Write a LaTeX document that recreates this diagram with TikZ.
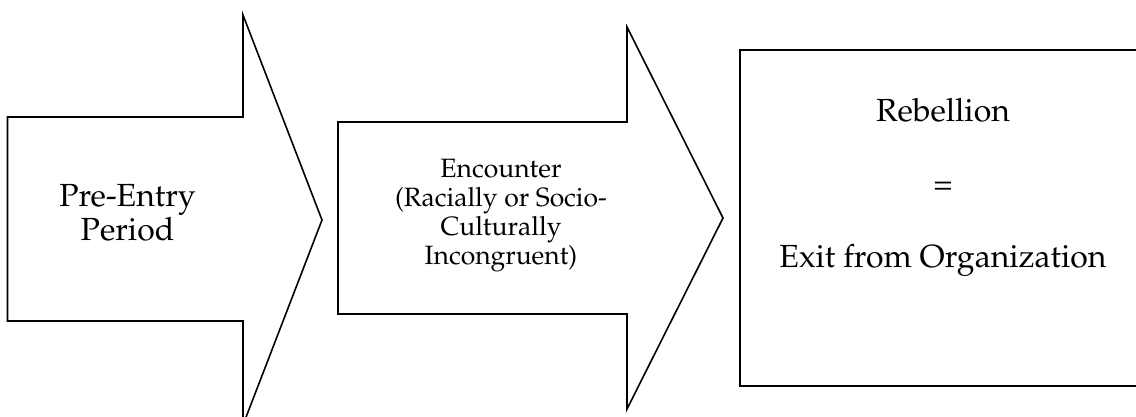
\documentclass[tikz,border=0pt]{standalone}
\usepackage[T1]{fontenc}
\usepackage{mathpazo}
\begin{document}
\begin{tikzpicture}[x=1pt,y=-1pt,
  outline/.style={draw=black, fill=white, line width=1.6pt, line join=miter},
  stagetext/.style={align=center, inner sep=0pt, text=black}]
\useasboundingbox (0,0) rectangle (1136,417);
\begin{scope}
\clip (0,0) rectangle (1136,417);
% first stage: block arrow
\draw[outline] (7.5,117) -- (243,117) -- (243,15) -- (322,220)
  -- (243,425) -- (243,321) -- (7.5,321) -- cycle;
% second stage: block arrow
\draw[outline] (338,122) -- (627,122) -- (627,27) -- (723,218)
  -- (627,409) -- (627,314) -- (338,314) -- cycle;
% outcome box
\draw[outline] (740,50) rectangle (1150,386);
\end{scope}
\node[stagetext, font=\fontsize{32}{34}\selectfont] (preentry) at (127.5,213)
  {Pre-Entry\\Period};
\node[stagetext, font=\fontsize{26.5}{29}\selectfont] (encounter) at (501,216)
  {Encounter\\(Racially or Socio-\\Culturally\\Incongruent)};
\node[stagetext, font=\fontsize{32}{36.5}\selectfont] (outcome) at (943,187.5)
  {Rebellion\\[36.5pt]=\\[36.5pt]Exit from Organization};
\end{tikzpicture}
\end{document}
